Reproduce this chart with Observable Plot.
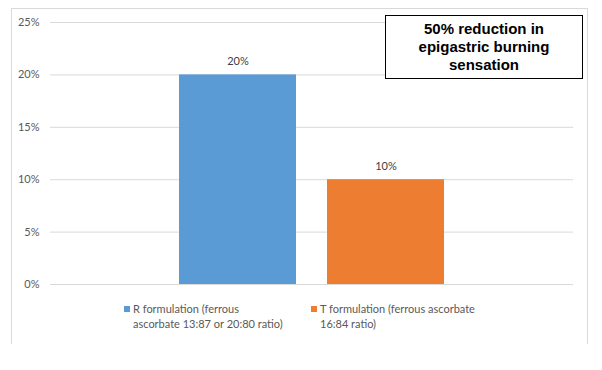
<!DOCTYPE html>
<html>
<head>
<meta charset="utf-8">
<script src="https://cdn.jsdelivr.net/npm/d3@7"></script>
<script src="https://cdn.jsdelivr.net/npm/@observablehq/plot@0.6"></script>
<style>
  html, body { margin: 0; padding: 0; background: #fff; }
  #wrap { position: relative; width: 602px; height: 370px; overflow: hidden; font-family: Lato, "Open Sans", sans-serif; }
  #frame { position: absolute; left: 11px; top: 8px; width: 575px; height: 335px; border: 1px solid #d9d9d9; border-bottom: none; }
  #chart { position: absolute; left: 0; top: 0; }
  #titlebox { position: absolute; left: 385px; top: 15px; width: 196px; height: 62px; border: 1px solid #000; background: #fff;
    font-family: "Liberation Sans", Arial, sans-serif; font-weight: bold; font-size: 15px; line-height: 18px; text-align: center; color: #000;
    display: flex; align-items: center; justify-content: center; }
  .leg { position: absolute; font-size: 11px; line-height: 15px; color: #595959; }
  .leg .sw { position: absolute; left: -9px; top: 5px; width: 6px; height: 6px; }
</style>
</head>
<body>
<div id="wrap">
  <div id="frame"></div>
  <div id="chart"></div>
  <div id="titlebox"></div>
  <div id="legend"></div>
</div>
<script>
const categories = ["R formulation (ferrous ascorbate 13:87 or 20:80 ratio)", "T formulation (ferrous ascorbate 16:84 ratio)"];
const legendLines = [["R formulation (ferrous", "ascorbate 13:87 or 20:80 ratio)"], ["T formulation (ferrous ascorbate", "16:84 ratio)"]];
const values = [20, 10];
const colors = ["#5b9bd5", "#ed7d31"];
const yTicks = [0, 5, 10, 15, 20, 25];
const titleText = ["50% reduction in", "epigastric burning", "sensation"];

const data = categories.map((c, i) => ({cat: c, value: values[i]}));

const plot = Plot.plot({
  width: 602,
  height: 370,
  marginTop: 22,
  marginBottom: 86,
  marginLeft: 50,
  marginRight: 29,
  style: {fontFamily: "Lato, 'Open Sans', sans-serif", fontSize: "11px", color: "#595959", background: "transparent"},
  x: {domain: categories, paddingInner: 0.212, paddingOuter: 0.867, axis: null},
  y: {domain: [0, 25], ticks: yTicks},
  color: {domain: categories, range: colors},
  marks: [
    Plot.ruleY(yTicks, {stroke: "#d9d9d9", strokeWidth: 1}),
    Plot.axisY({ticks: yTicks, tickSize: 0, tickPadding: 11, tickFormat: d => d + "%", label: null, fill: "#595959", fontSize: 11}),
    Plot.barY(data, {x: "cat", y: "value", fill: "cat"}),
    Plot.text(data, {x: "cat", y: "value", text: d => d.value + "%", dy: -13, fill: "#404040", fontSize: 11})
  ]
});
document.getElementById("chart").appendChild(plot);

document.getElementById("titlebox").innerHTML = "<div>" + titleText.join("<br>") + "</div>";

const legendPos = [{left: 133, top: 301}, {left: 320, top: 301}];
const legend = document.getElementById("legend");
legendLines.forEach((lines, i) => {
  const d = document.createElement("div");
  d.className = "leg";
  d.style.left = legendPos[i].left + "px";
  d.style.top = legendPos[i].top + "px";
  d.innerHTML = `<span class="sw" style="background:${colors[i]}"></span>` + lines.join("<br>");
  legend.appendChild(d);
});
</script>
</body>
</html>
